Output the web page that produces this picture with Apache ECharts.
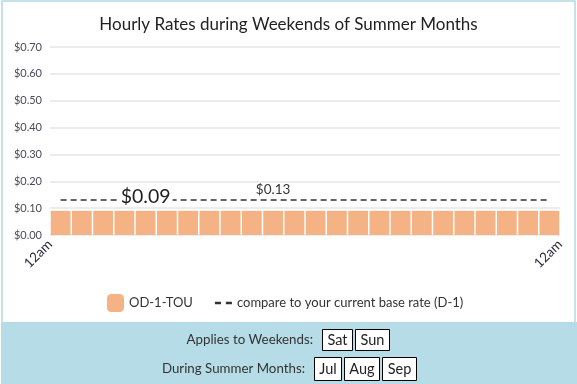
<!DOCTYPE html>
<html>
<head>
<meta charset="utf-8">
<script src="https://cdn.jsdelivr.net/npm/echarts@6/dist/echarts.min.js"></script>
<style>
html,body{margin:0;padding:0;background:#fff;}
#chart{width:577px;height:384px;}
</style>
</head>
<body>
<div id="chart"></div>
<script>
const FONT = 'Lato';
const title = 'Hourly Rates during Weekends of Summer Months';
const hours = ['12am','1am','2am','3am','4am','5am','6am','7am','8am','9am','10am','11am',
               '12pm','1pm','2pm','3pm','4pm','5pm','6pm','7pm','8pm','9pm','10pm','11pm'];
const odTouRates = [0.09,0.09,0.09,0.09,0.09,0.09,0.09,0.09,0.09,0.09,0.09,0.09,
                    0.09,0.09,0.09,0.09,0.09,0.09,0.09,0.09,0.09,0.09,0.09,0.09];
const baseRates = [0.13,0.13,0.13,0.13,0.13,0.13,0.13,0.13,0.13,0.13,0.13,0.13,
                   0.13,0.13,0.13,0.13,0.13,0.13,0.13,0.13,0.13,0.13,0.13,0.13];
const odTouLabelIndex = 4;
const baseLabelIndex = 10;
const seriesNames = ['OD-1-TOU','compare to your current base rate (D-1)'];
const xEdgeLabels = ['12am','12am'];
const yMax = 0.7, yStep = 0.1;
const weekendLabel = 'Applies to Weekends:';
const weekendDays = ['Sat','Sun'];
const summerLabel = 'During Summer Months:';
const summerMonths = ['Jul','Aug','Sep'];

const chart = echarts.init(document.getElementById('chart'));

const ctx = document.createElement('canvas').getContext('2d');
function tw(t, size){ ctx.font = size + 'px ' + FONT; return ctx.measureText(t).width; }

function boxRow(label, items, rightX, top, h){
  const cy = top + h/2;
  const els = [{type:'text', style:{text:label, x:rightX, y:cy, align:'right', verticalAlign:'middle',
    font:'13.3px '+FONT, fill:'#333'}}];
  let x = rightX + 9;
  items.forEach(it => {
    const w = Math.round(tw(it,14.5)) + 10;
    els.push({type:'rect', shape:{x:x+0.5, y:top + 0.5, width:w, height:h},
      style:{fill:'#fff', stroke:'#000', lineWidth:1}});
    els.push({type:'text', style:{text:it, x:x + w/2 + 0.5, y:cy + 1, align:'center', verticalAlign:'middle',
      font:'14.5px '+FONT, fill:'#222'}});
    x += w + 3;
  });
  return els;
}

const option = {
  animation:false,
  textStyle:{fontFamily:FONT},
  title:{text:title, left:'center', top:11, textStyle:{fontFamily:FONT, fontSize:17, fontWeight:'normal', color:'#222'}},
  grid:{left:50, right:17, top:47, bottom:149},
  legend:{top:289, left:102, itemWidth:17, itemHeight:18, itemGap:22,
    textStyle:{fontFamily:FONT, fontSize:13, color:'#333'}, data:[
      {name:seriesNames[0], icon:'roundRect'},
      {name:seriesNames[1], icon:'path://M0,0h5v2h-5z M9,0h5v2h-5z', itemStyle:{color:'#333'}}]},
  xAxis:[
    {type:'category', data:hours, axisLine:{show:false}, axisTick:{show:false}, axisLabel:{show:false}},
    {type:'value', min:0, max:hours.length, interval:hours.length, position:'bottom',
      axisLine:{show:false}, axisTick:{show:false}, splitLine:{show:false},
      axisLabel:{rotate:45, margin:7, fontSize:13.5, color:'#2a2a40', fontFamily:FONT,
        formatter:(v)=> v===0 ? xEdgeLabels[0] : xEdgeLabels[1]}}
  ],
  yAxis:{type:'value', min:0, max:yMax, interval:yStep,
    axisLine:{show:false}, axisTick:{show:false},
    axisLabel:{margin:8, fontSize:11, color:'#4a4a5a', fontFamily:FONT, formatter:v=>'$'+v.toFixed(2)},
    splitLine:{lineStyle:{color:'#e6e6e6', width:1.5}}},
  series:[
    {name:seriesNames[0], type:'bar', xAxisIndex:0, barCategoryGap:'7%', z:3,
      itemStyle:{color:'#f4b285'},
      data:odTouRates.map((v,i)=> i===odTouLabelIndex ? {value:v, label:{show:true, position:'top', distance:4,
        formatter:'$'+v.toFixed(2), fontSize:19.5, color:'#222', fontFamily:FONT, backgroundColor:'#fff', padding:[0,2]}} : v)},
    {name:seriesNames[1], type:'line', xAxisIndex:0, symbol:'circle', symbolSize:0, showSymbol:true, z:2,
      lineStyle:{color:'#333', width:1.5, type:[6,4]}, itemStyle:{color:'#333'},
      data:baseRates.map((v,i)=> i===baseLabelIndex ? {value:v, label:{show:true, position:'top', distance:3,
        formatter:'$'+v.toFixed(2), fontSize:13.5, color:'#333', fontFamily:FONT}} : v)}
  ],
  graphic:[
    {type:'rect', shape:{x:1, y:322, width:576, height:62}, style:{fill:'#b6dde7'}, z:-1},
    {type:'rect', shape:{x:2, y:1, width:573, height:390}, style:{fill:'none', stroke:'#b2d9e4', lineWidth:1.5}, z:-2},
    ...boxRow(weekendLabel, weekendDays, 313, 329, 21),
    ...boxRow(summerLabel, summerMonths, 305, 357, 23)
  ]
};
chart.setOption(option);
</script>
</body>
</html>
